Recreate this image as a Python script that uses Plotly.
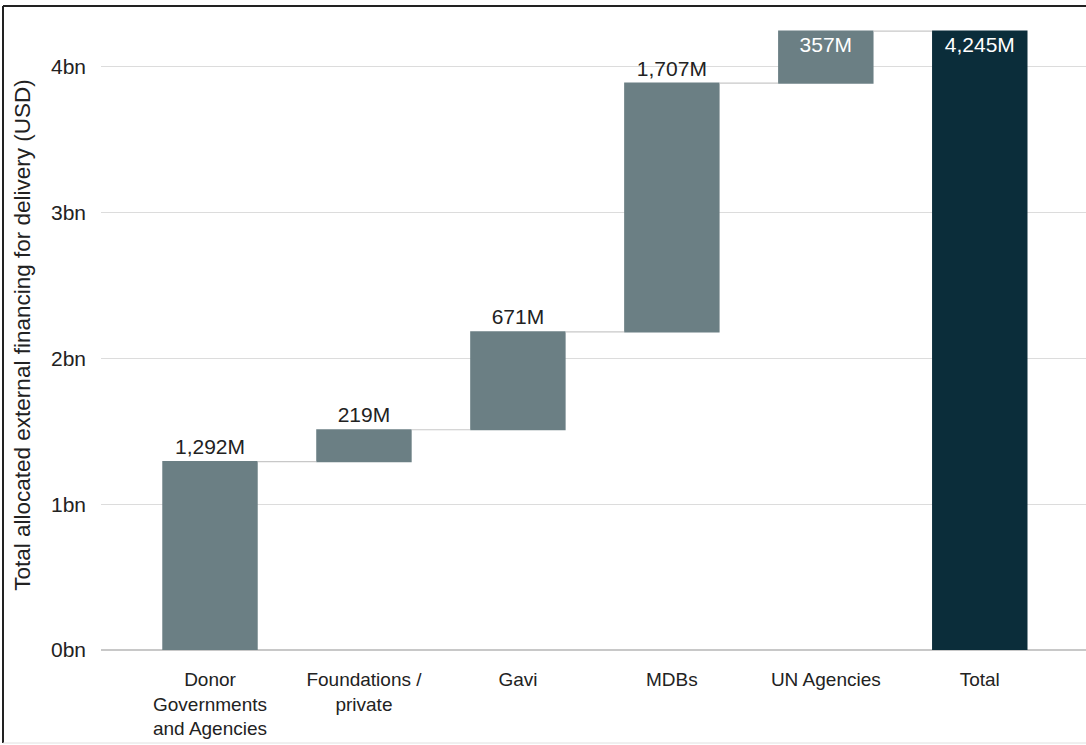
import plotly.graph_objects as go

categories = ["Donor<br>Governments<br>and Agencies", "Foundations /<br>private", "Gavi", "MDBs", "UN Agencies", "Total"]
values_m = [1292, 219, 671, 1707, 357, 4245]
measures = ["relative", "relative", "relative", "relative", "relative", "total"]
tick_vals = [0, 1000, 2000, 3000, 4000]
tick_text = ["0bn", "1bn", "2bn", "3bn", "4bn"]
labels = [f"{v:,}M" for v in values_m]

text_pos = ["outside", "outside", "outside", "outside", "inside", "inside"]

FONT = "Liberation Sans, Arial, sans-serif"
GRAY = "#6b7f84"
DARK = "#0b2d3a"

fig = go.Figure(go.Waterfall(
    x=categories,
    y=values_m,
    measure=measures,
    text=labels,
    textposition=text_pos,
    insidetextanchor="end",
    textfont=dict(family=FONT, size=21, color="#222222"),
    insidetextfont=dict(family=FONT, size=21, color="white"),
    outsidetextfont=dict(family=FONT, size=21, color="#222222"),
    increasing=dict(marker=dict(color=GRAY)),
    decreasing=dict(marker=dict(color=GRAY)),
    totals=dict(marker=dict(color=DARK)),
    connector=dict(line=dict(color="#c8c8c8", width=1.2)),
    width=0.62,
    cliponaxis=False,
    hoverinfo="skip",
))

L, R, T, B = 101, 0, 20, 95
W, H = 1086, 745
pw = W - L - R
ph = H - T - B

fig.update_layout(
    width=W, height=H,
    margin=dict(l=L, r=R, t=T, b=B),
    paper_bgcolor="white",
    plot_bgcolor="white",
    showlegend=False,
    font=dict(family=FONT, color="#222222"),
    xaxis=dict(
        range=[-0.708, 5.69],
        showgrid=False,
        tickfont=dict(family=FONT, size=19, color="#222222"),
        ticks="", showline=False, zeroline=False,
        ticklabelstandoff=16,
    ),
    yaxis=dict(
        range=[0, 4322],
        tickvals=tick_vals, ticktext=tick_text,
        tickfont=dict(family=FONT, size=21, color="#222222"),
        showgrid=True, gridcolor="#dcdcdc", gridwidth=1,
        zeroline=True, zerolinecolor="#c8c8c8", zerolinewidth=1.5,
        ticks="", ticklabelstandoff=14,
        title=dict(text="Total allocated external financing for delivery (USD)",
                   font=dict(family=FONT, size=22.5, color="#222222"), standoff=14),
    ),
    shapes=[
        dict(type="line", xref="paper", yref="paper",
             x0=(3 - L) / pw, x1=1.0, y0=(H - B - 6) / ph, y1=(H - B - 6) / ph,
             line=dict(color="#222222", width=2)),
        dict(type="line", xref="paper", yref="paper",
             x0=(3 - L) / pw, x1=(3 - L) / pw, y0=(H - B - 6) / ph, y1=(H - B - 743) / ph,
             line=dict(color="#222222", width=2)),
        dict(type="line", xref="paper", yref="paper",
             x0=(3 - L) / pw, x1=1.0, y0=(H - B - 743) / ph, y1=(H - B - 743) / ph,
             line=dict(color="#e0e0e0", width=1)),
    ],
)

fig.write_html("out.html", config={"displayModeBar": False},
               post_script="document.body.style.margin='0px';document.body.style.overflow='hidden';")
